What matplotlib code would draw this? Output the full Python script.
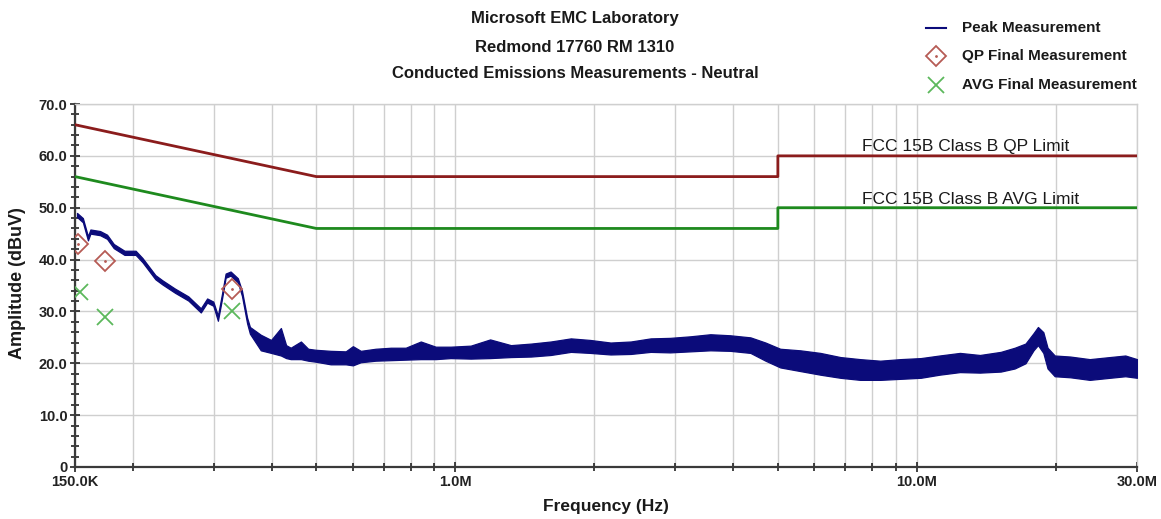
import matplotlib
matplotlib.use("Agg")
import matplotlib.pyplot as plt
from matplotlib.lines import Line2D
from matplotlib.ticker import FixedLocator, MultipleLocator, NullFormatter

# ---------------- data ----------------
title_lines = ["Microsoft EMC Laboratory", "Redmond 17760 RM 1310",
               "Conducted Emissions Measurements - Neutral"]

# Peak trace envelope (Hz, lower dBuV, upper dBuV)
peak_freq = [151.5e3, 156e3, 160e3, 162e3, 170e3, 176e3, 182e3, 192e3, 203e3, 210e3,
             224e3, 232e3, 247e3, 264e3, 281e3, 290e3, 299e3, 306e3, 312e3, 318e3,
             326e3, 338e3, 345e3, 354e3, 359e3, 379e3, 399e3, 419e3, 430e3, 440e3,
             463e3, 480e3, 499e3, 537e3, 579e3, 600e3, 624e3, 672e3, 725e3, 781e3,
             842e3, 907e3, 977e3, 1.08e6, 1.19e6, 1.32e6, 1.46e6, 1.61e6, 1.78e6, 1.96e6,
             2.17e6, 2.40e6, 2.65e6, 2.92e6, 3.23e6, 3.57e6, 3.94e6, 4.36e6, 4.70e6, 5.06e6,
             5.59e6, 6.18e6, 6.83e6, 7.54e6, 8.33e6, 9.21e6, 10.2e6, 11.2e6, 12.4e6, 13.7e6,
             15.2e6, 16.3e6, 17.2e6, 17.9e6, 18.3e6, 18.8e6, 19.2e6, 19.9e6, 21.5e6, 23.7e6,
             26.2e6, 28.3e6, 30e6]
peak_lo = [48.2, 47.2, 43.7, 45.0, 44.7, 44.0, 42.2, 40.9, 40.9, 39.5,
           36.2, 35.2, 33.6, 32.1, 29.8, 31.7, 31.1, 28.2, 32.2, 36.5,
           36.9, 35.6, 33.0, 27.7, 25.7, 22.5, 22.0, 21.5, 21.0, 20.8,
           20.8, 20.5, 20.3, 19.8, 19.8, 19.6, 20.2, 20.5, 20.6, 20.7,
           20.8, 20.8, 21.0, 20.9, 21.0, 21.2, 21.3, 21.6, 22.2, 22.0,
           21.7, 21.8, 22.2, 22.1, 22.3, 22.5, 22.4, 22.0, 20.5, 19.2,
           18.5, 17.8, 17.2, 16.8, 16.8, 17.0, 17.2, 17.8, 18.3, 18.2,
           18.4, 19.0, 20.0, 22.5, 23.5, 22.0, 19.0, 17.5, 17.3, 16.8,
           17.2, 17.5, 17.2]
peak_hi = [49.0, 48.0, 44.5, 45.8, 45.5, 44.8, 43.0, 41.7, 41.7, 40.3,
           37.0, 36.0, 34.4, 32.9, 30.6, 32.5, 31.9, 29.2, 33.2, 37.3,
           37.7, 36.4, 34.0, 28.8, 27.0, 25.5, 24.5, 26.8, 23.5, 23.0,
           24.2, 22.8, 22.6, 22.4, 22.3, 23.3, 22.4, 22.8, 23.0, 23.0,
           24.2, 23.2, 23.2, 23.4, 24.6, 23.5, 23.8, 24.2, 24.8, 24.5,
           24.0, 24.2, 24.8, 24.9, 25.2, 25.6, 25.4, 25.0, 24.0, 22.8,
           22.5, 22.0, 21.2, 20.8, 20.5, 20.8, 21.0, 21.5, 22.0, 21.6,
           22.2, 23.0, 23.8, 25.8, 27.0, 26.0, 23.0, 21.5, 21.3, 20.8,
           21.2, 21.5, 20.8]

# Limits (Hz, dBuV)
qp_limit_freq = [150e3, 500e3, 5e6, 5e6, 30e6]
qp_limit_val = [66.0, 56.0, 56.0, 60.0, 60.0]
avg_limit_freq = [150e3, 500e3, 5e6, 5e6, 30e6]
avg_limit_val = [56.0, 46.0, 46.0, 50.0, 50.0]

# Final measurements
qp_freq = [152e3, 174e3, 329e3]
qp_val = [43.0, 39.8, 34.3]
avg_freq = [154e3, 174e3, 329e3]
avg_val = [33.8, 29.0, 30.0]

x_major = [150e3, 1e6, 10e6, 30e6]
x_major_labels = ["150.0K", "1.0M", "10.0M", "30.0M"]
x_minor = [200e3, 300e3, 400e3, 500e3, 600e3, 700e3, 800e3, 900e3,
           2e6, 3e6, 4e6, 5e6, 6e6, 7e6, 8e6, 9e6, 20e6]
y_major = [0, 10, 20, 30, 40, 50, 60, 70]
y_major_labels = ["0", "10.0", "20.0", "30.0", "40.0", "50.0", "60.0", "70.0"]

# ---------------- styling ----------------
plt.rcParams["font.family"] = ["Liberation Sans", "DejaVu Sans"]

W, H = 1161, 519
fig = plt.figure(figsize=(W / 100, H / 100), dpi=100)
ax = fig.add_axes([75 / W, 1 - 467 / H, (1137 - 75) / W, (467 - 104) / H])

TRACE = "#0b0b7a"
QP_C = "#8b1c1c"
AVG_C = "#1e8a1e"
QPM_C = "#b65b55"
AVGM_C = "#5cb85c"
GRID = "#cfcfcf"

ax.set_xscale("log")
ax.set_xlim(150e3, 30e6)
ax.set_ylim(0, 70)

ax.xaxis.set_major_locator(FixedLocator(x_major))
ax.set_xticklabels(x_major_labels)
ax.xaxis.set_minor_locator(FixedLocator(x_minor))
ax.xaxis.set_minor_formatter(NullFormatter())
ax.yaxis.set_major_locator(FixedLocator(y_major))
ax.set_yticklabels(y_major_labels)
ax.yaxis.set_minor_locator(MultipleLocator(2))

ax.grid(True, which="both", axis="x", color=GRID, lw=1.0)
ax.grid(True, which="major", axis="y", color=GRID, lw=1.0)
ax.set_axisbelow(True)

for s in ["top", "right"]:
    ax.spines[s].set_color(GRID)
    ax.spines[s].set_linewidth(1.0)
for s in ["left", "bottom"]:
    ax.spines[s].set_color("#3a3a3a")
    ax.spines[s].set_linewidth(1.6)

ax.tick_params(axis="both", which="both", direction="inout", color="#222222", width=1.2)
ax.tick_params(axis="both", which="major", length=7)
ax.tick_params(axis="both", which="minor", length=6)
ax.tick_params(axis="x", which="major", pad=2)
ax.tick_params(axis="y", which="major", pad=2)
for lab in ax.get_xticklabels() + ax.get_yticklabels():
    lab.set_fontweight("bold")
    lab.set_fontsize(10.5)
    lab.set_color("#222222")

# limits
ax.plot(qp_limit_freq, qp_limit_val, color=QP_C, lw=2.0, zorder=3)
ax.plot(avg_limit_freq, avg_limit_val, color=AVG_C, lw=2.0, zorder=3)
ax.text(7.6e6, 61.9, "FCC 15B Class B QP Limit", fontsize=12.5, color="#1a1a1a",
        va="center", ha="left", zorder=4)
ax.text(7.6e6, 51.6, "FCC 15B Class B AVG Limit", fontsize=12.5, color="#1a1a1a",
        va="center", ha="left", zorder=2)

# peak trace
ax.fill_between(peak_freq, peak_lo, peak_hi, color=TRACE, lw=0.9, edgecolor=TRACE, zorder=4)

# finals
ax.plot(qp_freq, qp_val, ls="none", marker="D", ms=10, mfc="none", mec=QPM_C, mew=1.3, zorder=5)
ax.plot(qp_freq, qp_val, ls="none", marker=".", ms=2, color=QPM_C, zorder=5)
ax.plot(avg_freq, avg_val, ls="none", marker="x", ms=11, mec=AVGM_C, mew=1.3, zorder=5)

# axis labels
fig.text(606 / W, 1 - 506 / H, "Frequency (Hz)", fontsize=12.5, fontweight="bold",
         ha="center", va="center", color="#1a1a1a")
fig.text(18 / W, 1 - 283 / H, "Amplitude (dBuV)", fontsize=13, fontweight="bold",
         ha="center", va="center", rotation=90, color="#1a1a1a")

# title
for txt, yy in zip(title_lines, [19, 47, 73]):
    fig.text(575 / W, 1 - yy / H, txt, fontsize=12, fontweight="bold",
             ha="center", va="center", color="#1a1a1a")

# legend (manual)
fig.add_artist(Line2D([926 / W, 946 / W], [1 - 28 / H, 1 - 28 / H], color=TRACE, lw=1.5,
                      transform=fig.transFigure))
fig.add_artist(Line2D([936 / W], [1 - 56 / H], ls="none", marker="D", ms=10, mfc="none",
                      mec=QPM_C, mew=1.3, transform=fig.transFigure))
fig.add_artist(Line2D([936 / W], [1 - 56 / H], ls="none", marker=".", ms=2, color=QPM_C,
                      transform=fig.transFigure))
fig.add_artist(Line2D([936 / W], [1 - 85 / H], ls="none", marker="x", ms=11, mec=AVGM_C,
                      mew=1.3, transform=fig.transFigure))
for txt, yy in zip(["Peak Measurement", "QP Final Measurement", "AVG Final Measurement"],
                   [28, 56, 85]):
    fig.text(962 / W, 1 - yy / H, txt, fontsize=11, fontweight="bold",
             ha="left", va="center", color="#1a1a1a")

fig.savefig("out.png", dpi=100)
